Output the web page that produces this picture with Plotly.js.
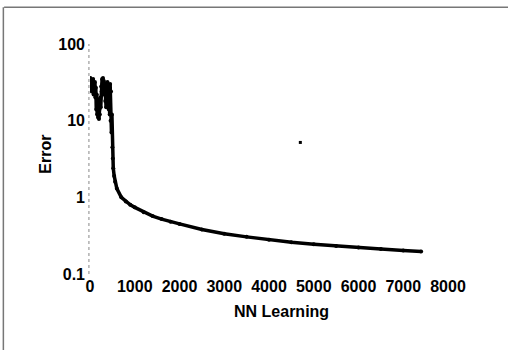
<!DOCTYPE html>
<html>
<head>
<meta charset="utf-8">
<script src="https://cdn.plot.ly/plotly-3.0.1.min.js"></script>
<style>html,body{margin:0;padding:0;background:#fff;}#chart{width:508px;height:350px;}</style>
</head>
<body>
<div id="chart"></div>
<script>
// Learning curve (x = NN learning iterations, y = error)
const learnX = [0,10,20,30,40,50,60,70,80,90,100,110,120,130,140,150,160,170,180,190,200,210,220,230,240,250,260,270,280,290,300,310,320,330,340,350,360,370,380,390,400,410,420,430,440,450,460,470,480,490,500,510,520,540,560,600,700,800,900,1000,1200,1400,1600,1800,2000,2500,3000,3500,4000,4500,5000,5500,6000,6500,7000,7400];
const learnY = [30,36,26,34,24,33,28,35,22,30,25,32,20,27,14,22,12,18,11,16,10.5,14,12,20,15,28,24,35,30,36,22,33,26,30,18,27,15,25,20,32,16,28,14,26,12,30,10,24,7,12,4.5,3.2,2.4,1.9,1.6,1.3,1.0,0.88,0.8,0.74,0.64,0.57,0.52,0.48,0.45,0.38,0.335,0.305,0.28,0.26,0.245,0.232,0.222,0.212,0.203,0.196];
// Isolated stray point
const strayX = [4700];
const strayY = [5.2];
// Tick labels
const xTicks = [0,1000,2000,3000,4000,5000,6000,7000,8000];
const yTicks = [0.1,1,10,100];
const yTickText = ['0.1','1','10','100'];

const font = {family: 'Liberation Sans, Arial, sans-serif', size: 16, color: '#000', weight: 'bold'};

const traces = [
  {x: learnX, y: learnY, type: 'scatter', mode: 'lines+markers',
   line: {color: '#000', width: 3.5}, marker: {color: '#000', size: 4}, hoverinfo: 'skip'},
  {x: strayX, y: strayY, type: 'scatter', mode: 'markers',
   marker: {color: '#000', size: 3, symbol: 'square'}, hoverinfo: 'skip'}
];

const layout = {
  width: 508, height: 350,
  margin: {l: 90, r: 60, t: 44, b: 76},
  paper_bgcolor: '#fff', plot_bgcolor: '#fff',
  showlegend: false,
  font: font,
  xaxis: {range: [0, 8000], tickvals: xTicks, ticktext: xTicks.map(String),
          showgrid: false, zeroline: false, showline: false, ticks: '',
          tickfont: font, ticklabelstandoff: 1},
  yaxis: {type: 'log', range: [-1, 2], tickvals: yTicks, ticktext: yTickText,
          showgrid: false, zeroline: false, showline: false, ticks: '',
          tickfont: font, ticklabelstandoff: 4},
  shapes: [
    {type: 'line', xref: 'paper', yref: 'paper', x0: -0.003, x1: -0.003, y0: 0, y1: 1,
     line: {color: '#888', width: 1, dash: 'dot'}},
    {type: 'line', xref: 'paper', yref: 'paper', x0: -0.24, x1: 1.17, y0: 1.16, y1: 1.16,
     line: {color: '#777', width: 1.5}},
    {type: 'line', xref: 'paper', yref: 'paper', x0: -0.242, x1: -0.242, y0: 1.16, y1: -0.33,
     line: {color: '#777', width: 1.5}}
  ],
  annotations: [
    {text: 'NN Learning', xref: 'paper', yref: 'paper', x: 0.535, y: -0.165,
     showarrow: false, font: font, xanchor: 'center', yanchor: 'middle'},
    {text: 'Error', xref: 'paper', yref: 'paper', x: -0.125, y: 0.52,
     showarrow: false, font: font, textangle: -90, xanchor: 'center', yanchor: 'middle'}
  ]
};

Plotly.newPlot('chart', traces, layout, {staticPlot: true, displayModeBar: false});
</script>
</body>
</html>
